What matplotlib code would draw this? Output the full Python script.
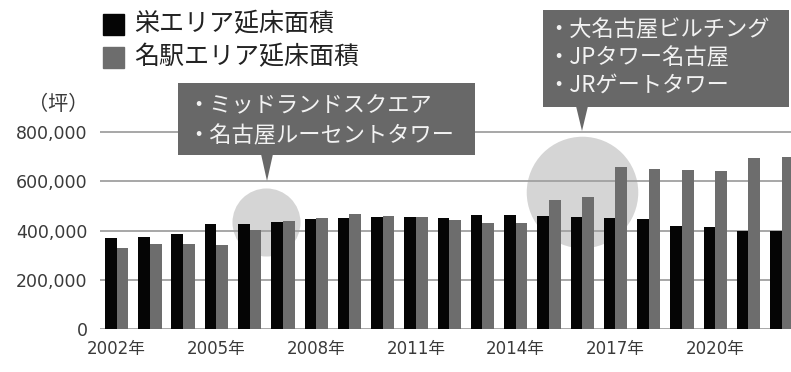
import numpy as np
import matplotlib
matplotlib.use("Agg")
import matplotlib.pyplot as plt
from matplotlib.patches import Rectangle, Polygon

plt.rcParams['font.family'] = ['Noto Sans CJK JP', 'DejaVu Sans']

# 延床面積（坪）
years = list(range(2002, 2023))
sakae = [368000, 372000, 385000, 426000, 426000, 436000, 447000, 451000, 455000, 455000,
         451000, 463000, 463000, 458000, 455000, 450000, 447000, 418000, 416000, 399000, 399000]
meieki = [330000, 344000, 345000, 340000, 401000, 440000, 451000, 468000, 459000, 455000,
          443000, 429000, 429000, 524000, 538000, 659000, 651000, 646000, 643000, 696000, 700000]
series_names = ['栄エリア延床面積', '名駅エリア延床面積']
yticks = [0, 200000, 400000, 600000, 800000]

callout1 = ['・ミッドランドスクエア', '・名古屋ルーセントタワー']
callout2 = ['・大名古屋ビルチング', '・JPタワー名古屋', '・JRゲートタワー']

W, H = 791, 372
BLACK = '#050505'
GRAY = '#6d6d6d'
BOX = '#686868'

def fx(x):
    return x / W

def fy(y):
    return 1 - y / H

fig = plt.figure(figsize=(W / 100, H / 100), dpi=100)
ax = fig.add_axes([fx(100), 43 / H, 691 / W, 209.3 / H])

x = np.arange(len(years))
bw = 0.35

# highlight circles behind the bars
ax.scatter([4.5], [434000], s=2400, color='#d5d5d5', zorder=0.2, clip_on=False, linewidths=0)
ax.scatter([14.0], [556000], s=6450, color='#d5d5d5', zorder=0.2, clip_on=False, linewidths=0)

ax.bar(x - bw / 2, sakae, width=bw, color=BLACK, zorder=2)
ax.bar(x + bw / 2, meieki, width=bw, color=GRAY, zorder=2)

ax.set_xlim(-0.5, 20.28)
ax.set_ylim(0, 850000)
ax.set_yticks(yticks)
ax.set_yticklabels([f'{v:,}' for v in yticks], fontsize=12.5, color='#3a3a3a',
                   family=['DejaVu Sans', 'Noto Sans CJK JP'])
ax.set_xticks(x[::3])
ax.set_xticklabels([f'{y}年' for y in years[::3]], fontsize=12, color='#3a3a3a',
                   family=['DejaVu Sans', 'Noto Sans CJK JP'])
ax.tick_params(axis='both', length=0)
ax.tick_params(axis='y', pad=9)
ax.tick_params(axis='x', pad=8)
ax.yaxis.grid(True, color='#a0a0a0', lw=1.3, zorder=1)
ax.set_axisbelow(True)
for s in ax.spines.values():
    s.set_visible(False)

fig.text(fx(88), fy(105), '（坪）', ha='right', va='center', fontsize=14.5, color='#3a3a3a')

# legend
colors = [BLACK, GRAY]
for i, (name, c) in enumerate(zip(series_names, colors)):
    yc = 24 + 33 * i
    fig.add_artist(Rectangle((fx(103), fy(yc + 10.5)), 21 / W, 21 / H,
                             transform=fig.transFigure, color=c))
    fig.text(fx(134), fy(yc), name, ha='left', va='center', fontsize=18, color='#222222')

# callout boxes with pointers
def callout(x0, y0, x1, y1, tip_x, tip_y, lines, tx, ty0, dy):
    fig.add_artist(Rectangle((fx(x0), fy(y1)), (x1 - x0) / W, (y1 - y0) / H,
                             transform=fig.transFigure, color=BOX, lw=0))
    tri = [(fx(tip_x - 6), fy(y1 - 1)), (fx(tip_x + 6), fy(y1 - 1)), (fx(tip_x), fy(tip_y))]
    fig.add_artist(Polygon(tri, closed=True, transform=fig.transFigure, color=BOX, lw=0))
    for i, t in enumerate(lines):
        fig.text(fx(tx), fy(ty0 + dy * i), t, ha='left', va='center',
                 fontsize=16, color='#f2f2f2')

callout(178, 83, 475, 155, 267, 181, callout1, 187, 106, 30)
callout(543, 10, 789, 107, 582, 131, callout2, 547, 30, 27.5)

fig.savefig('out.png', dpi=100)
